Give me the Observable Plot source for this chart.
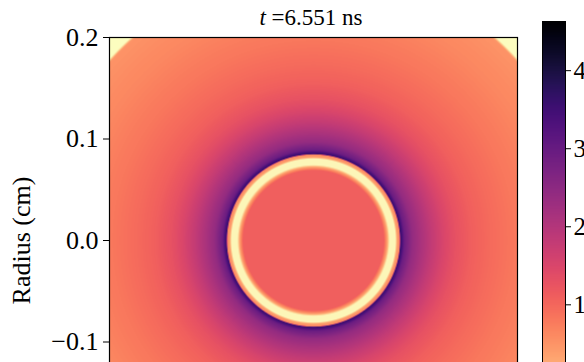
<!DOCTYPE html>
<html><head><meta charset="utf-8">
<script src="https://cdn.jsdelivr.net/npm/d3@7"></script>
<script src="https://cdn.jsdelivr.net/npm/@observablehq/plot@0.6"></script>
<style>
html,body{margin:0;padding:0;overflow:hidden;background:#fff;width:584px;height:362px}
#wrap{position:relative;width:584px;height:362px;overflow:hidden}
#title{position:absolute;top:6px;left:161px;width:300px;text-align:center;font-family:"Liberation Serif",serif;font-size:23px;line-height:24px;color:#000;white-space:nowrap}
#main{position:absolute;left:0;top:0;width:584px}
#cbar{position:absolute;left:542px;top:0;width:70px}
svg{max-width:none !important}
</style></head><body>
<div id="wrap"><div id="main"></div><div id="cbar"></div><div id="title"><i>t</i> =6.551 ns</div></div>
<script>
// Radial profile (radius in cm -> field value)
const profileRadius = [0, 0.069, 0.0725, 0.0745, 0.0805, 0.0815, 0.083, 0.0845, 0.0853, 0.0866, 0.089, 0.097, 0.106, 0.116, 0.128, 0.139, 0.155, 0.175, 0.2, 0.23, 0.266, 0.2685, 0.3];
const profileValue  = [1.1, 1.1, 0.3, -0.6, -0.6, 0.2, 0.5, 0.6, 3.6, 3.45, 2.95, 2.4, 2.1, 1.8, 1.5, 1.3, 1.1, 0.95, 0.8, 0.65, 0.5, -0.7, -0.7];
const axisDomain = [-0.2, 0.2];
const yTicks = [-0.2, -0.1, 0.0, 0.1, 0.2];
const colorDomain = [-0.7, 4.63];
const colorTicks = [1, 2, 3, 4];

const profile = d3.scaleLinear().domain(profileRadius).range(profileValue).clamp(true);
const colorOpts = {type: "linear", scheme: "magma", reverse: true, domain: colorDomain};
const fontFamily = "'Liberation Serif', serif";

const main = Plot.plot({
  width: 584, height: 460,
  marginTop: 37, marginLeft: 109, marginRight: 67, marginBottom: 17,
  style: {fontFamily, fontSize: "25px", color: "#000", background: "transparent", overflow: "visible"},
  x: {domain: axisDomain},
  y: {domain: axisDomain},
  color: colorOpts,
  marks: [
    Plot.raster({fill: (x, y) => profile(Math.hypot(x, y)), x1: axisDomain[0], x2: axisDomain[1], y1: axisDomain[0], y2: axisDomain[1], pixelSize: 1}),
    Plot.frame({stroke: "#000", strokeWidth: 1.2}),
    Plot.axisY({ticks: yTicks, tickFormat: d3.format(".1f"), tickSize: 6, tickPadding: 5, label: "Radius (cm)", labelAnchor: "center", labelArrow: "none", labelOffset: 98, fontSize: 26}),
    Plot.axisX({ticks: yTicks, tickFormat: d3.format(".1f"), tickSize: 6, label: null})
  ]
});
document.getElementById("main").append(main);

const cbar = Plot.plot({
  width: 70, height: 460,
  marginTop: 21, marginLeft: 0, marginRight: 47, marginBottom: 23,
  style: {fontFamily, fontSize: "25px", color: "#000", background: "transparent", overflow: "visible"},
  x: {domain: [0, 1], axis: null},
  y: {domain: colorDomain},
  color: colorOpts,
  marks: [
    Plot.raster({fill: (x, y) => y, x1: 0, x2: 1, y1: colorDomain[0], y2: colorDomain[1], pixelSize: 1}),
    Plot.frame({stroke: "#000", strokeWidth: 1}),
    Plot.axisY({anchor: "right", ticks: colorTicks, tickFormat: d => String(d), tickSize: 5, tickPadding: 3, label: null})
  ]
});
document.getElementById("cbar").append(cbar);
</script>
</body></html>
